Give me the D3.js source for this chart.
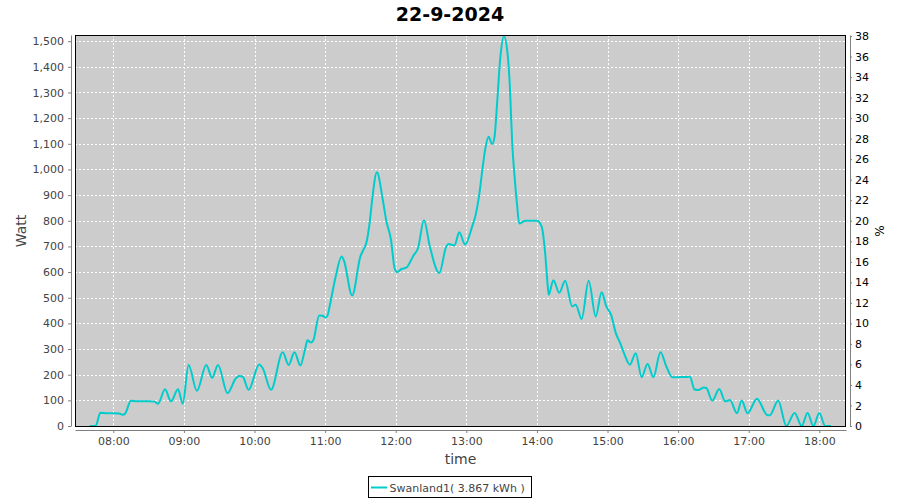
<!DOCTYPE html>
<html>
<head>
<meta charset="utf-8">
<script src="https://cdn.jsdelivr.net/npm/d3@7"></script>
<style>
  html, body { margin: 0; padding: 0; background: #fff; }
  svg { display: block; font-family: "DejaVu Sans", sans-serif; }
</style>
</head>
<body>
<svg id="chart" width="900" height="500"></svg>
<script>
// ---- data ----
const chartTitle = "22-9-2024";
const seriesName = "Swanland1( 3.867 kWh )";
const times = ["07:40","07:45","07:49","07:55","08:00","08:05","08:08","08:10","08:15","08:20","08:25","08:30","08:35","08:38","08:44","08:49","08:55","08:59","09:04","09:11","09:19","09:24","09:29","09:37","09:44","09:47","09:50","09:55","10:04","10:07","10:14","10:24","10:29","10:34","10:39","10:43","10:45","10:48","10:50","10:55","10:58","11:00","11:02","11:04","11:09","11:14","11:16","11:23","11:30","11:33","11:35","11:38","11:40","11:44","11:49","11:52","11:56","11:59","12:01","12:05","12:09","12:15","12:19","12:24","12:29","12:37","12:43","12:45","12:50","12:54","12:59","13:05","13:08","13:11","13:14","13:16","13:19","13:22","13:24","13:26","13:29","13:32","13:35","13:37","13:39","13:41","13:43","13:45","13:50","13:55","14:00","14:04","14:07","14:09","14:10","14:14","14:19","14:24","14:30","14:33","14:38","14:44","14:50","14:55","14:59","15:03","15:07","15:11","15:14","15:19","15:24","15:29","15:34","15:39","15:45","15:50","15:55","16:00","16:05","16:10","16:14","16:17","16:22","16:24","16:29","16:35","16:40","16:44","16:50","16:54","16:59","17:07","17:16","17:18","17:25","17:32","17:39","17:45","17:50","17:55","18:00","18:05","18:10"];
const watts = [0,0,52,50,50,49,44,48,98,96,96,96,95,87,143,96,143,87,238,137,238,188,238,128,185,195,192,141,240,225,141,287,238,287,236,300,334,325,334,431,430,423,430,470,583,661,645,509,661,691,713,798,882,989,882,800,726,616,600,612,617,664,694,802,700,596,700,709,704,755,707,778,824,902,1012,1077,1127,1099,1127,1246,1441,1519,1454,1324,1103,973,869,789,800,800,800,778,674,557,512,568,519,566,466,473,417,566,427,521,466,434,363,321,284,239,284,190,242,190,287,232,190,190,191,192,142,140,150,148,99,144,96,101,50,99,50,106,42,42,99,0,51,0,51,0,51,0,0];
const leftTicks = d3.range(0, 1501, 100);
const rightTicks = d3.range(0, 39, 2);
const xStart = "07:27:27", xEnd = "18:22:41";

// ---- layout ----
const svg = d3.select("#chart");
const L = 75, R = 846, T = 35, B = 426;
const parseHM = d3.timeParse("%H:%M");
const parseHMS = d3.timeParse("%H:%M:%S");
const data = times.map((t, i) => ({ t: parseHM(t), v: watts[i] }));

const x = d3.scaleTime().domain([parseHMS(xStart), parseHMS(xEnd)]).range([L, R]);
const y = d3.scaleLinear().domain([0, 1524]).range([B, T]);
const y2 = d3.scaleLinear().domain([0, 38.1]).range([B, T]);

// title
svg.append("text").attr("x", 450).attr("y", 21).attr("text-anchor", "middle")
  .attr("font-size", 19).attr("font-weight", "bold").attr("fill", "#000").text(chartTitle);

// plot background
svg.append("rect").attr("x", L).attr("y", T).attr("width", R - L).attr("height", B - T)
  .attr("fill", "#cccccc");

// grid
const hourTicks = x.ticks(d3.timeHour.every(1));
const grid = svg.append("g").attr("stroke", "#fff").attr("stroke-width", 1).attr("stroke-dasharray", "2,2");
hourTicks.forEach(d => {
  const px = Math.round(x(d)) + 0.5;
  grid.append("line").attr("x1", px).attr("x2", px).attr("y1", T).attr("y2", B);
});
leftTicks.forEach(d => {
  if (d === 0) return;
  const py = Math.round(y(d)) + 0.5;
  grid.append("line").attr("x1", L).attr("x2", R).attr("y1", py).attr("y2", py);
});

// clip + line
svg.append("clipPath").attr("id", "clip").append("rect")
  .attr("x", L).attr("y", T).attr("width", R - L).attr("height", B - T);
const line = d3.line().x(d => x(d.t)).y(d => y(d.v)).curve(d3.curveMonotoneX);
svg.append("path").datum(data).attr("clip-path", "url(#clip)")
  .attr("fill", "none").attr("stroke", "#00cccc").attr("stroke-width", 2)
  .attr("stroke-linejoin", "round").attr("d", line);

// plot border
svg.append("rect").attr("x", L + 0.5).attr("y", T + 0.5).attr("width", R - L - 1).attr("height", B - T)
  .attr("fill", "none").attr("stroke", "#000").attr("stroke-width", 1);

// axes
function styleAxis(g, color) {
  g.select(".domain").attr("stroke", "#808080");
  g.selectAll(".tick line").attr("stroke", "#808080");
  g.selectAll(".tick text").attr("fill", color).attr("font-family", "DejaVu Sans, sans-serif").attr("font-size", 11);
}
const gx = svg.append("g").attr("transform", "translate(0,430)")
  .call(d3.axisBottom(x).ticks(d3.timeHour.every(1)).tickFormat(d3.timeFormat("%H:%M"))
    .tickSize(3).tickSizeOuter(0).tickPadding(4));
styleAxis(gx, "#444");

const gl = svg.append("g").attr("transform", "translate(71,0)")
  .call(d3.axisLeft(y).tickValues(leftTicks).tickFormat(d3.format(",")).tickSize(3).tickSizeOuter(0).tickPadding(4));
styleAxis(gl, "#444");

const gr = svg.append("g").attr("transform", "translate(850,0)")
  .call(d3.axisRight(y2).tickValues(rightTicks).tickFormat(d3.format("d")).tickSize(2).tickSizeOuter(0).tickPadding(3));
styleAxis(gr, "#000");

// axis labels
svg.append("text").attr("transform", "translate(26,231) rotate(-90)").attr("text-anchor", "middle")
  .attr("font-size", 14).attr("fill", "#444").text("Watt");
svg.append("text").attr("x", 460.5).attr("y", 464).attr("text-anchor", "middle")
  .attr("font-size", 14).attr("fill", "#444").text("time");
svg.append("text").attr("transform", "translate(884,231) rotate(-90)").attr("text-anchor", "middle")
  .attr("font-size", 12).attr("fill", "#000").text("%");

// legend
const lg = svg.append("g");
lg.append("rect").attr("x", 368.5).attr("y", 476.5).attr("width", 163).attr("height", 21)
  .attr("fill", "#fff").attr("stroke", "#000").attr("stroke-width", 1);
lg.append("line").attr("x1", 371).attr("x2", 387).attr("y1", 487.5).attr("y2", 487.5)
  .attr("stroke", "#00cccc").attr("stroke-width", 2);
lg.append("text").attr("x", 389.5).attr("y", 491.5).attr("font-size", 11).attr("fill", "#444").text(seriesName);
</script>
</body>
</html>
